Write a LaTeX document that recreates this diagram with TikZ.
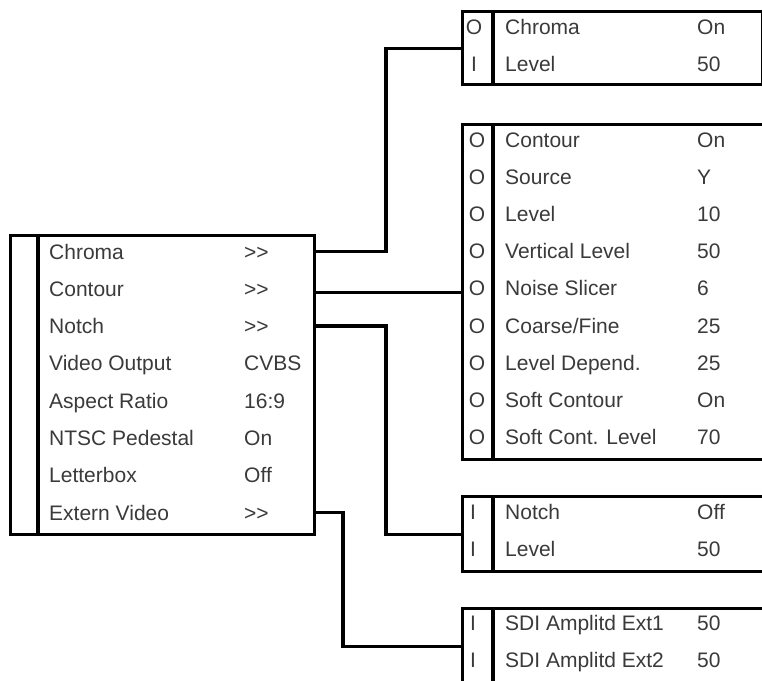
\documentclass[tikz,border=0pt]{standalone}
\usepackage{fontspec}
\setmainfont{Liberation Sans}
\usepackage{xcolor}
\usetikzlibrary{positioning}
\definecolor{Ink}{HTML}{3A3A3A}

\tikzset{
  menubox/.style={draw,line width=3.2pt,rectangle,inner sep=0pt,anchor=north west},
  entry/.style={anchor=base west,inner sep=0pt,text=Ink,font=\fontsize{21}{25}\selectfont},
  flag/.style={entry,anchor=base},
  link/.style={line width=3.2pt}
}

\begin{document}
\begin{tikzpicture}[x=1pt,y=-1pt]
  \useasboundingbox (0,0) rectangle (762,680);
  \clip (0,0) rectangle (762,680);
  % main menu
  \node[menubox,minimum width=304pt,minimum height=299pt] (mainbox) at (9,234) {};
  \draw[link] ([xshift=29pt]mainbox.north west) -- ([xshift=29pt]mainbox.south west);
  \foreach \lab/\val [count=\i] in {Chroma/{>{}>},Contour/{>{}>},Notch/{>{}>},Video Output/CVBS,
      Aspect Ratio/16:9,NTSC Pedestal/On,Letterbox/Off,Extern Video/{>{}>}}{
    \node[entry] (m\i) at (49,{259+37.3*(\i-1)}) {\lab};
    \node[entry] (v\i) at (244,{259+37.3*(\i-1)}) {\val};
  }
  % sub menus
  \node[menubox,minimum width=299.5pt,minimum height=73pt] (chromabox) at (461,10) {};
  \draw[link] ([xshift=32pt]chromabox.north west) -- ([xshift=32pt]chromabox.south west);
  \foreach \sym/\lab/\val [count=\i] in {O/Chroma/On,I/Level/50}{
    \node[flag] (cs\i) at (474,{34+37*(\i-1)}) {\sym};
    \node[entry] (cl\i) at (505,{34+37*(\i-1)}) {\lab};
    \node[entry] (cv\i) at (697,{34+37*(\i-1)}) {\val};
  }
  \node[menubox,minimum width=305pt,minimum height=335pt] (contourbox) at (461,123) {};
  \draw[link] ([xshift=32pt]contourbox.north west) -- ([xshift=32pt]contourbox.south west);
  \foreach \lab/\val [count=\i] in {Contour/On,Source/Y,Level/10,Vertical Level/50,
      Noise Slicer/6,{Coarse/Fine}/25,Level Depend./25,Soft Contour/On,Soft Cont. Level/70}{
    \node[flag] (os\i) at (477,{147+37.2*(\i-1)}) {O};
    \node[entry] (ol\i) at (505,{147+37.2*(\i-1)}) {\lab};
    \node[entry] (ov\i) at (697,{147+37.2*(\i-1)}) {\val};
  }
  \node[menubox,minimum width=305pt,minimum height=75pt] (notchbox) at (461,495) {};
  \draw[link] ([xshift=32pt]notchbox.north west) -- ([xshift=32pt]notchbox.south west);
  \foreach \lab/\val [count=\i] in {Notch/Off,Level/50}{
    \node[flag] (ns\i) at (473,{519+37*(\i-1)}) {I};
    \node[entry] (nl\i) at (505,{519+37*(\i-1)}) {\lab};
    \node[entry] (nv\i) at (697,{519+37*(\i-1)}) {\val};
  }
  \node[menubox,minimum width=305pt,minimum height=75pt] (sdibox) at (461,607) {};
  \draw[link] ([xshift=32pt]sdibox.north west) -- ([xshift=32pt]sdibox.south west);
  \foreach \lab/\val [count=\i] in {SDI Amplitd Ext1/50,SDI Amplitd Ext2/50}{
    \node[flag] (ss\i) at (473,{630+37*(\i-1)}) {I};
    \node[entry] (sl\i) at (505,{630+37*(\i-1)}) {\lab};
    \node[entry] (sv\i) at (697,{630+37*(\i-1)}) {\val};
  }
  % connectors
  \draw[link] (mainbox.east |- m1) -| ([xshift=-75pt]chromabox.west) -- (chromabox.west);
  \draw[link] (mainbox.east |- contourbox.west) -- (contourbox.west);
  \draw[link] (mainbox.east |- m3) -| ([xshift=-75pt]notchbox.west) -- (notchbox.west);
  \draw[link] (mainbox.east |- m8) -| ([xshift=-118pt]sdibox.west) -- (sdibox.west);
\end{tikzpicture}
\end{document}
